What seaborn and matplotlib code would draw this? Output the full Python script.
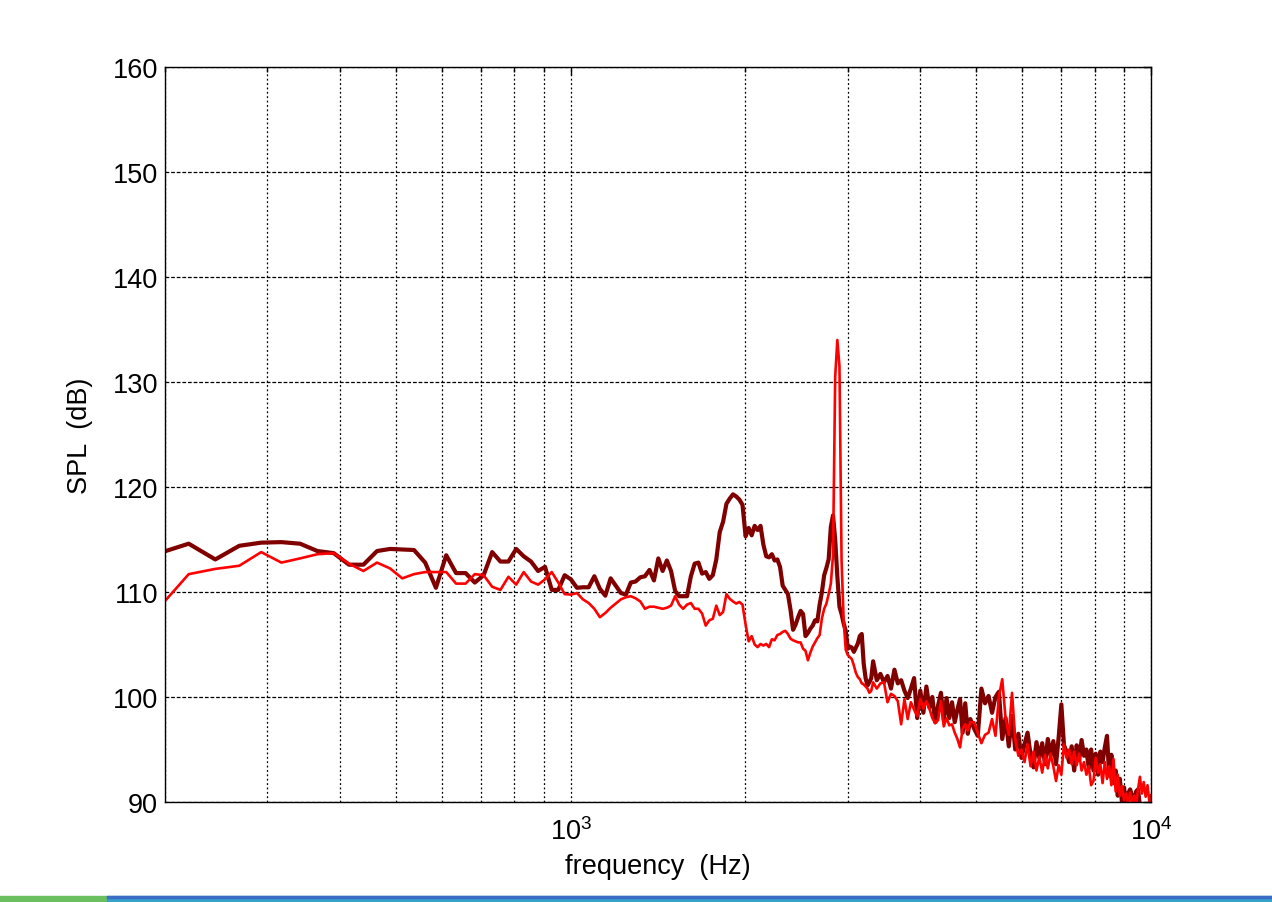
import numpy as np
import pandas as pd
import matplotlib
matplotlib.use("Agg")
import matplotlib.pyplot as plt
import seaborn as sns
from matplotlib.patches import Rectangle
from matplotlib.ticker import LogLocator, NullFormatter, LogFormatterSciNotation

# FFT bin numbers (bin width 24.414 Hz), thinned out above ~3.3 kHz
bins = np.r_[np.arange(8, 136), np.arange(136, 200, 2), np.arange(200, 411, 3)]
freq = bins * 24.414

# dark red trace (dB)
spl_dark = [
    113.7, 114.6, 113.1, 114.4, 114.7, 114.75, 114.6, 113.9, 113.7, 112.6,
    112.6, 113.9, 114.1, 114.05, 114.0, 112.8, 110.4, 113.5, 111.8, 111.8,
    110.9, 111.6, 113.8, 112.9, 112.9, 114.1, 113.4, 112.9, 112.0, 112.4,
    110.2, 110.2, 111.6, 111.2, 110.4, 110.45, 110.45, 111.5, 110.3, 109.65,
    111.3, 110.6, 109.9, 109.75, 110.9, 111.0, 111.4, 111.5, 112.1, 111.1,
    113.2, 112.0, 113.0, 112.0, 110.1, 109.6, 109.6, 109.6, 111.5, 112.7,
    112.8, 111.75, 111.9, 111.25, 111.6, 113.1, 115.7, 116.7, 118.4, 118.9,
    119.3, 119.1, 118.8, 118.3, 115.3, 116.1, 115.4, 116.3, 115.9, 116.3,
    114.5, 113.4, 113.3, 113.6, 113.0, 113.1, 112.4, 110.6, 110.2, 109.8,
    108.3, 106.4, 106.9, 107.6, 108.2, 107.9, 105.8, 106.1, 106.5, 106.8,
    107.3, 107.2, 108.8, 110.0, 111.6, 112.3, 113.1, 116.2, 117.3, 115.0,
    111.5, 108.6, 107.9, 107.0, 106.3, 104.6, 104.8, 104.7, 104.3, 104.7,
    105.1, 105.8, 106.0, 103.2, 101.8, 101.1, 101.4, 101.8,
    # step 2
    103.4, 101.6, 102.2, 101.4, 102.0, 100.8, 102.6, 101.3, 101.6, 100.6,
    99.9, 100.8, 101.8, 98.0, 100.6, 98.5, 101.0, 99.0, 100.0, 97.6,
    99.2, 100.4, 97.8, 99.9, 98.0, 99.5, 97.6, 98.8, 99.8, 96.6,
    99.4, 96.5,
    # step 3
    97.9, 97.0, 96.3, 100.8, 99.4, 100.1, 98.5, 100.0, 100.5, 96.0,
    98.0, 95.3, 98.2, 95.0, 96.5, 94.2, 95.5, 96.6, 94.5, 93.3,
    95.7, 94.2, 95.6, 93.6, 96.0, 94.4, 95.8, 93.6, 96.2, 99.3,
    95.4, 94.8, 93.8, 95.3, 93.0, 95.4, 94.0, 95.9, 94.4, 95.0,
    93.2, 95.0, 93.0, 94.6, 92.6, 94.8, 93.8, 95.2, 96.3, 92.5,
    94.5, 91.8, 93.0, 90.6, 92.2, 90.0, 91.4, 89.8, 90.8, 91.2,
    90.6, 89.5, 91.0, 91.2, 89.6, 89.5, 89.7, 89.4, 89.6, 89.4,
    89.5,
]

# bright red trace (dB)
spl_red = [
    108.5, 111.7, 112.2, 112.5, 113.8, 112.8, 113.2, 113.6, 113.7, 112.7,
    112.0, 112.8, 112.25, 111.3, 111.7, 111.9, 111.9, 111.9, 110.8, 110.8,
    111.7, 111.6, 110.5, 110.2, 111.45, 110.7, 111.9, 111.0, 110.7, 111.2,
    111.9, 110.9, 109.8, 109.75, 109.9, 109.3, 108.95, 108.4, 107.6, 108.0,
    108.5, 108.9, 109.3, 109.5, 109.6, 109.4, 109.1, 108.4, 108.6, 108.6,
    108.5, 108.4, 108.5, 108.7, 109.6, 108.8, 108.4, 108.8, 108.95, 108.4,
    108.4, 107.95, 106.8, 107.3, 107.45, 108.7, 107.8, 108.1, 109.8, 109.35,
    109.1, 108.9, 109.05, 108.8, 106.9, 105.3, 105.8, 105.0, 104.75, 105.05,
    104.9, 105.05, 104.75, 105.5, 105.4, 105.9, 106.0, 106.2, 106.3, 106.0,
    105.55, 105.4, 105.3, 105.2, 105.2, 104.6, 104.4, 103.5, 104.2, 104.8,
    105.2, 105.6, 105.9, 107.5, 108.4, 108.9, 109.8, 110.8, 113.5, 130.5,
    134.0, 131.5, 113.0, 107.3, 104.5, 104.0, 103.8, 103.6, 103.0, 102.3,
    101.9, 101.7, 101.3, 101.2, 101.0, 100.8, 100.4, 100.6,
    # step 2
    101.4, 100.8, 101.3, 101.4, 99.5, 100.3, 100.1, 99.6, 97.4, 99.8,
    97.9, 99.5, 98.8, 98.2, 99.8, 98.9, 99.6, 98.9, 98.0, 97.5,
    97.8, 99.6, 97.2, 98.0, 97.3, 97.4, 96.6, 96.0, 95.2, 97.0,
    97.4, 96.8,
    # step 3
    97.6, 97.6, 96.6, 95.6, 96.4, 96.6, 97.9, 96.3, 100.0, 101.7,
    98.0, 96.4, 100.4, 96.0, 94.4, 95.0, 93.8, 95.5, 93.4, 94.8,
    93.0, 94.3, 92.8, 94.5, 93.2, 94.6, 93.4, 92.0, 93.5, 92.6,
    95.5, 94.2, 95.0, 93.6, 94.8, 93.5, 94.6, 93.0, 93.8, 92.6,
    93.4, 91.6, 92.0, 94.2, 92.8, 93.6, 91.8, 93.8, 92.2, 93.4,
    91.6, 94.1, 91.0, 92.6, 90.6, 91.5, 90.2, 90.8, 89.8, 90.9,
    89.8, 90.6, 89.6, 91.2, 92.4, 90.8, 91.9, 90.5, 91.6, 90.0,
    90.7,
]

df = pd.DataFrame({"freq": freq, "dark": spl_dark, "red": spl_red})

sns.set_style("white")
plt.rcParams['font.family'] = ['Liberation Sans', 'DejaVu Sans']
plt.rcParams['mathtext.fontset'] = 'custom'
plt.rcParams['mathtext.rm'] = 'Liberation Sans'
plt.rcParams['text.color'] = 'black'
plt.rcParams['axes.labelcolor'] = 'black'
FS = 19.5

fig = plt.figure(figsize=(12.72, 9.03), dpi=100)
ax = fig.add_axes([165 / 1272, 100 / 903, 986 / 1272, 735 / 903])

sns.lineplot(data=df, x="freq", y="dark", color="#800000", lw=3.0, ax=ax,
             estimator=None, sort=False)
sns.lineplot(data=df, x="freq", y="red", color="#ff0000", lw=1.9, ax=ax,
             estimator=None, sort=False)

ax.set_xscale("log")
ax.set_xlim(200, 10000)
ax.set_ylim(90, 160)
ax.set_yticks(range(90, 161, 10))
ax.xaxis.set_major_locator(LogLocator(base=10, numticks=10))
ax.xaxis.set_major_formatter(LogFormatterSciNotation())
ax.xaxis.set_minor_locator(LogLocator(base=10, subs=range(2, 10), numticks=20))
ax.xaxis.set_minor_formatter(NullFormatter())

ax.grid(True, which="both", axis="x", color="black", ls=(0, (1.5, 2.0)), lw=0.9)
ax.grid(True, which="major", axis="y", color="black", ls=(0, (3.0, 1.5)), lw=0.9)

ax.tick_params(which="both", direction="in", top=True, right=True, width=1,
               colors="black", labelcolor="black", labelsize=FS)
ax.tick_params(which="major", length=6)
ax.tick_params(which="minor", length=3.5)
ax.tick_params(axis="y", pad=5)
ax.tick_params(axis="x", pad=11)
for s in ax.spines.values():
    s.set_color("black")
    s.set_linewidth(1.0)

ax.set_xlabel("frequency  (Hz)", fontsize=FS, labelpad=6)
ax.set_ylabel("SPL  (dB)", fontsize=FS, labelpad=14)

# taskbar strip at the bottom of the screenshot
fig.patches.append(Rectangle((0, 0), 107 / 1272, 6 / 903, transform=fig.transFigure,
                             color="#6cbf5e", zorder=0))
fig.patches.append(Rectangle((107 / 1272, 0), 1 - 107 / 1272, 6 / 903,
                             transform=fig.transFigure, color="#36a2c9", zorder=0))
fig.patches.append(Rectangle((107 / 1272, 4 / 903), 1 - 107 / 1272, 2 / 903,
                             transform=fig.transFigure, color="#3b6cc6", zorder=0))

fig.savefig("out.png", dpi=100)
